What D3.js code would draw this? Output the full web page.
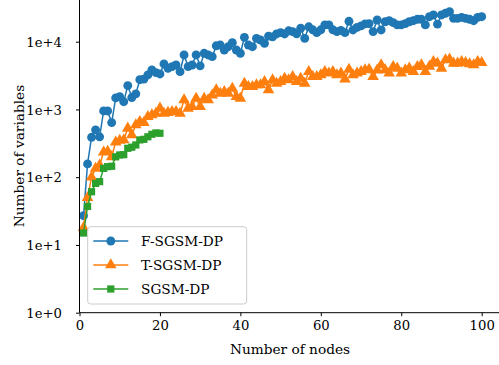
<!DOCTYPE html>
<html>
<head>
<meta charset="utf-8">
<script src="https://cdn.jsdelivr.net/npm/d3@7"></script>
<style>
  body { margin: 0; background: #fff; }
  svg { display: block; font-family: "DejaVu Serif", serif; }
</style>
</head>
<body>
<svg id="chart" width="499" height="365"></svg>
<script>
// values, x = 1..n
var fsgsm = [27, 157, 388, 500, 395, 950, 950, 640, 1480, 1540,
    1300, 2250, 1500, 1700, 2750, 2800, 3230, 3820, 3490, 3340,
    4690, 4050, 4280, 4530, 3610, 6370, 4280, 4530, 6370, 4400,
    6740, 6370, 6010, 8700, 8930, 7540, 8440, 9670, 7540, 6740,
    11600, 8930, 8440, 11200, 10600, 9460, 12100, 11800, 13000, 13600,
    13000, 14500, 14100, 13100, 15800, 11200, 16600, 15000, 13600, 15000,
    17700, 17700, 15000, 14100, 14700, 13600, 20000, 14900, 16300, 17100,
    18300, 18500, 14100, 20900, 14900, 19700, 20400, 19100, 17700, 17700,
    18500, 19700, 20400, 21400, 21400, 17700, 23400, 24800, 18200, 24800,
    26300, 27700, 22100, 22100, 22900, 22100, 21400, 20400, 22900, 23400];

var tsgsm = [18, 50, 100, 135, 150, 235, 240, 200, 330, 350,
    355, 527, 420, 590, 660, 640, 782, 828, 877, 1040,
    877, 900, 927, 927, 877, 1380, 1040, 1100, 1460, 1100,
    1460, 1380, 1630, 1940, 1730, 1830, 1730, 2050, 1540, 1460,
    2430, 2170, 2170, 2300, 2300, 2570, 1940, 2720, 2430, 2570,
    2880, 2720, 3040, 2570, 2880, 2430, 3610, 3040, 3040, 3230,
    3610, 3420, 3610, 3230, 3420, 2800, 3900, 3230, 3420, 3610,
    3820, 3900, 3040, 3800, 4530, 3820, 3420, 4280, 4050, 3420,
    3820, 4050, 3610, 4280, 4530, 3610, 4300, 5070, 4800, 4050,
    5370, 5500, 4800, 4800, 5070, 4910, 4700, 4530, 5070, 4910];

var sgsm = [15, 37, 61, 81, 86, 135, 143, 145, 200, 213,
    215, 267, 277, 299, 355, 362, 395, 430, 450, 445];

var seriesNames = ["F-SGSM-DP", "T-SGSM-DP", "SGSM-DP"];
var xTicks = [0, 20, 40, 60, 80, 100];
var yTicks = [1, 10, 100, 1000, 10000];

var colors = ["#1f77b4", "#ff7f0e", "#2ca02c"];
var symbols = [d3.symbolCircle, d3.symbolTriangle, d3.symbolSquare];
var symSizes = [62, 58, 52];

var svg = d3.select("#chart");

var x = d3.scaleLinear().domain([0, 100]).range([79.5, 481.7]);
var y = d3.scaleLog().domain([1, 10000]).range([312.7, 41.7]);

var all = [fsgsm, tsgsm, sgsm].map(function (vals, i) {
    return {
        name: seriesNames[i],
        color: colors[i],
        symbol: symbols[i],
        size: symSizes[i],
        points: vals.map(function (v, j) { return { x: j + 1, y: v }; })
    };
});

var line = d3.line()
    .x(function (d) { return x(d.x); })
    .y(function (d) { return y(d.y); });

all.forEach(function (s) {
    var g = svg.append("g");
    g.append("path")
        .datum(s.points)
        .attr("d", line)
        .attr("fill", "none")
        .attr("stroke", s.color)
        .attr("stroke-width", 1.5);
    g.selectAll("path.mark")
        .data(s.points)
        .enter().append("path")
        .attr("class", "mark")
        .attr("transform", function (d) { return "translate(" + x(d.x) + "," + y(d.y) + ")"; })
        .attr("d", d3.symbol().type(s.symbol).size(s.size))
        .attr("fill", s.color);
});

// axes
var xAxis = svg.append("g")
    .attr("transform", "translate(0,312.7)")
    .call(d3.axisBottom(x).tickValues(xTicks).tickSize(3.5).tickPadding(4));
xAxis.select(".domain").attr("d", "M79.5,0H499");

var yAxis = svg.append("g")
    .attr("transform", "translate(79.5,0)")
    .call(d3.axisLeft(y).tickValues(yTicks).tickSize(3.5).tickPadding(14)
        .tickFormat(function (d) { return "1e+" + Math.round(Math.log10(d)); }));
yAxis.select(".domain").attr("d", "M0,0V312.7");

svg.selectAll(".tick text").attr("font-size", 13.2).attr("font-family", "DejaVu Serif").attr("fill", "#000");
svg.selectAll(".domain, .tick line").attr("stroke", "#000").attr("stroke-width", 1);
yAxis.selectAll(".tick text").attr("dy", "0.35em");

svg.append("text")
    .attr("x", 290)
    .attr("y", 354)
    .attr("text-anchor", "middle")
    .attr("font-size", 13.7)
    .text("Number of nodes");

svg.append("text")
    .attr("transform", "translate(24,156) rotate(-90)")
    .attr("text-anchor", "middle")
    .attr("font-size", 13.7)
    .text("Number of variables");

// legend
var legend = svg.append("g");
legend.append("rect")
    .attr("x", 87.7).attr("y", 226.7)
    .attr("width", 159).attr("height", 77.3)
    .attr("rx", 3)
    .attr("fill", "#fff").attr("fill-opacity", 0.8)
    .attr("stroke", "#cccccc").attr("stroke-width", 1);

var item = legend.selectAll("g.item")
    .data(all)
    .enter().append("g")
    .attr("class", "item")
    .attr("transform", function (d, i) { return "translate(0," + (241 + i * 24) + ")"; });
item.append("line")
    .attr("x1", 93.3).attr("x2", 128.3)
    .attr("stroke", function (d) { return d.color; })
    .attr("stroke-width", 1.5);
item.append("path")
    .attr("transform", "translate(110.8,0)")
    .attr("d", function (d) { return d3.symbol().type(d.symbol).size(d.size)(); })
    .attr("fill", function (d) { return d.color; });
item.append("text")
    .attr("x", 141)
    .attr("y", 5)
    .attr("font-size", 13.7)
    .text(function (d) { return d.name; });
</script>
</body>
</html>
